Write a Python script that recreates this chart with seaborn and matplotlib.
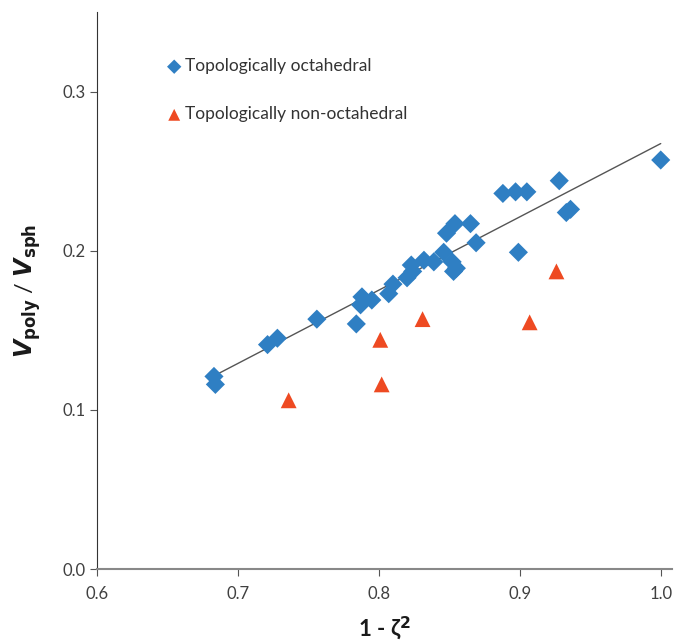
import numpy as np
import pandas as pd
import matplotlib
matplotlib.use("Agg")
import matplotlib.pyplot as plt
import seaborn as sns

# data
octa_x = [0.683, 0.684, 0.721, 0.728, 0.756, 0.784, 0.788, 0.787, 0.795,
          0.807, 0.810, 0.820, 0.823, 0.824, 0.832, 0.839, 0.846, 0.848,
          0.854, 0.852, 0.853, 0.855, 0.865, 0.869, 0.888, 0.897, 0.905,
          0.899, 0.928, 0.933, 0.936, 1.000]
octa_y = [0.121, 0.116, 0.141, 0.145, 0.157, 0.154, 0.171, 0.166, 0.169,
          0.173, 0.179, 0.183, 0.191, 0.187, 0.194, 0.193, 0.199, 0.211,
          0.217, 0.193, 0.187, 0.189, 0.217, 0.205, 0.236, 0.237, 0.237,
          0.199, 0.244, 0.224, 0.226, 0.257]

nonocta_x = [0.736, 0.801, 0.802, 0.831, 0.907, 0.926]
nonocta_y = [0.106, 0.144, 0.116, 0.157, 0.155, 0.187]

df_o = pd.DataFrame({"x": octa_x, "y": octa_y})
df_n = pd.DataFrame({"x": nonocta_x, "y": nonocta_y})

blue = "#2F7FC3"
red = "#EE4A22"

sns.set_style("white")
plt.rcParams["font.family"] = ["Lato", "DejaVu Sans"]

fig = plt.figure(figsize=(6.76, 6.44), dpi=100)
ax = fig.add_axes([97 / 676, 1 - 569 / 644, 575 / 676, 557 / 644])

# trend line through the octahedral set
sns.regplot(data=df_o, x="x", y="y", scatter=False, ci=None, truncate=True,
            color="#555555", line_kws={"lw": 1.0}, ax=ax)

sns.scatterplot(data=df_o, x="x", y="y", marker="D", s=95, color=blue,
                edgecolor="none", label="Topologically octahedral", ax=ax, zorder=3)
sns.scatterplot(data=df_n, x="x", y="y", marker="^", s=130, color=red,
                edgecolor="none", label="Topologically non-octahedral", ax=ax, zorder=3)

ax.set_xlim(0.6, 1.008)
ax.set_ylim(0, 0.35)
ax.set_xticks([0.6, 0.7, 0.8, 0.9, 1.0])
ax.set_yticks([0.0, 0.1, 0.2, 0.3])
ax.set_xticklabels(["0.6", "0.7", "0.8", "0.9", "1.0"])
ax.set_yticklabels(["0.0", "0.1", "0.2", "0.3"])

for s in ["top", "right"]:
    ax.spines[s].set_visible(False)
ax.spines["left"].set_color("#333333")
ax.spines["left"].set_linewidth(0.8)
ax.spines["bottom"].set_color("#888888")
ax.spines["bottom"].set_linewidth(1.5)
ax.tick_params(axis="both", direction="out", length=5, width=0.8,
               colors="#555555", labelcolor="#404040", labelsize=12)
ax.tick_params(axis="x", pad=7)
ax.tick_params(axis="y", left=True)
ax.tick_params(axis="x", bottom=True)

ax.set_xlabel(r"1 - ζ$^\mathbf{2}$", fontsize=16, fontweight="bold",
              color="#1a1a1a", labelpad=9)
ax.set_ylabel(r"$\mathbfit{V}_{\mathbf{poly}}$ / $\mathbfit{V}_{\mathbf{sph}}$",
              fontsize=17, color="#1a1a1a", labelpad=14)

leg = ax.legend(loc="upper left", bbox_to_anchor=(0.095, 0.945), frameon=False,
                fontsize=12.5, labelspacing=1.85, handletextpad=0.25,
                handlelength=0.8, markerscale=0.75)
for t in leg.get_texts():
    t.set_color("#333333")

plt.savefig("out.png", dpi=100)
